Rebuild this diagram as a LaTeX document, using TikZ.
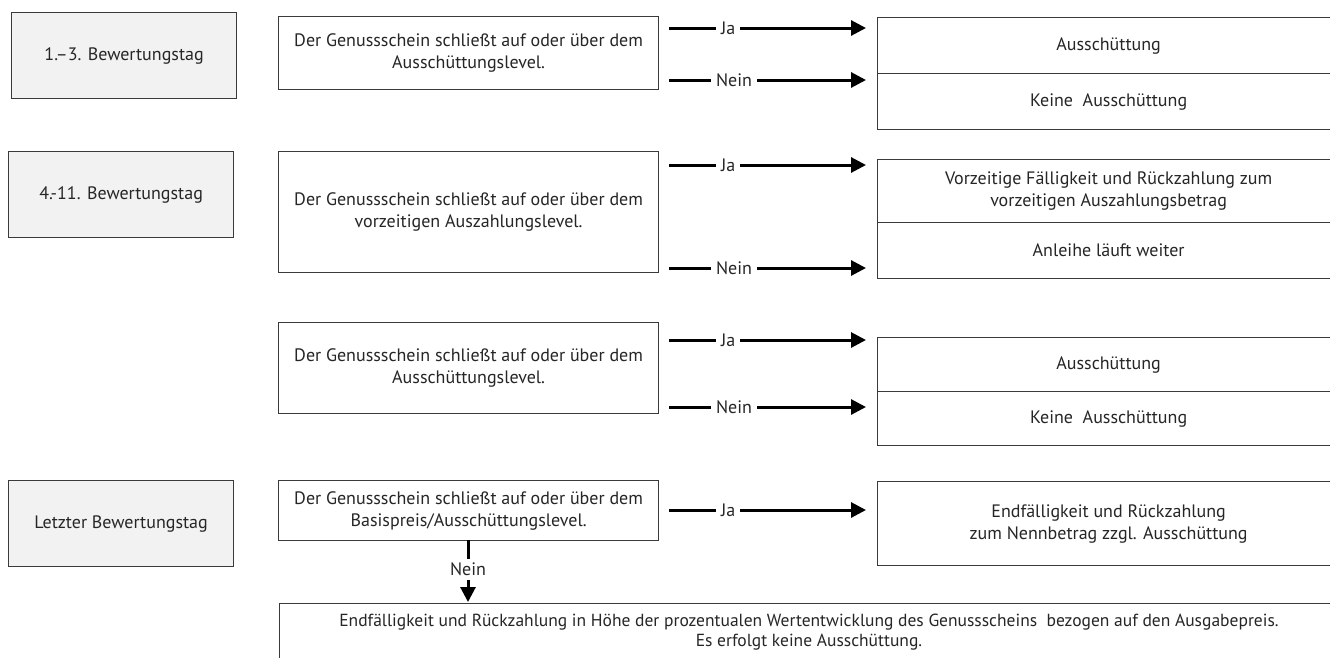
\documentclass[tikz,border=0pt]{standalone}
\usepackage{fontspec}
\setmainfont{PT Sans}
\usetikzlibrary{arrows.meta}
\definecolor{txt}{HTML}{262626}
\definecolor{frame}{HTML}{3A3A3A}
\definecolor{grayfill}{HTML}{F2F2F2}
\tikzset{
  base/.style={draw=frame, line width=1.2pt, rectangle, anchor=north west, align=center,
    text=txt, font=\fontsize{18}{22}\selectfont, inner sep=0pt},
  daybox/.style={base, fill=grayfill, minimum width=225pt, minimum height=86pt},
  condbox/.style={base, fill=white, minimum width=380pt},
  resbox/.style={base, fill=white, minimum width=462pt},
  arr/.style={line width=3pt, black, -{Triangle[length=15pt,width=15pt]}},
  lbl/.style={fill=white, text=txt, font=\fontsize{18}{20}\selectfont, inner xsep=5pt, inner ysep=1pt, pos=0.3}
}
\begin{document}
\begin{tikzpicture}[x=1pt,y=-1pt]
\useasboundingbox (0,0) rectangle (1330,657);
\clip (0,0) rectangle (1330,657);
\fill[white] (0,0) rectangle (1330,657);

% day boxes
\node[daybox] (d1) at (11,12) {1.–3. Bewertungstag};
\node[daybox] (d2) at (8,151) {4.-11. Bewertungstag};
\node[daybox] (d4) at (8,480) {Letzter Bewertungstag};

% condition boxes
\node[condbox, minimum height=73pt] (c1) at (278,16) {Der Genussschein schließt auf oder über dem\\Ausschüttungslevel.};
\node[condbox, minimum height=121pt] (c2) at (278,151) {Der Genussschein schließt auf oder über dem\\vorzeitigen Auszahlungslevel.};
\node[condbox, minimum height=91pt] (c3) at (278,322) {Der Genussschein schließt auf oder über dem\\Ausschüttungslevel.};
\node[condbox, minimum height=60pt] (c4) at (278,480) {Der Genussschein schließt auf oder über dem\\Basispreis/Ausschüttungslevel.};

% result boxes
\node[resbox, minimum height=56pt] (r1a) at (877,17) {Ausschüttung};
\node[resbox, minimum height=56pt] (r1b) at (877,73) {Keine\ \ Ausschüttung};
\node[resbox, minimum height=63pt] (r2a) at (877,159) {Vorzeitige Fälligkeit und Rückzahlung zum\\vorzeitigen Auszahlungsbetrag};
\node[resbox, minimum height=56pt] (r2b) at (877,222) {Anleihe läuft weiter};
\node[resbox, minimum height=54pt] (r3a) at (877,337) {Ausschüttung};
\node[resbox, minimum height=54pt] (r3b) at (877,391) {Keine\ \ Ausschüttung};
\node[resbox, minimum height=84pt] (r4) at (877,481) {Endfälligkeit und Rückzahlung\\zum Nennbetrag zzgl. Ausschüttung};
\node[base, fill=white, minimum width=1065pt, minimum height=90pt] (fin) at (279,603) {};
\node[text=txt, font=\fontsize{17.5}{20}\selectfont, align=center, anchor=north, inner sep=0pt] (fintext) at (809,614)
  {Endfälligkeit und Rückzahlung in Höhe der prozentualen Wertentwicklung des Genussscheins\ \ bezogen auf den Ausgabepreis.\\Es erfolgt keine Ausschüttung.};

% arrow end points
\coordinate (j1s) at (669,28);  \coordinate (j1e) at (866,28);
\coordinate (n1s) at (669,80);  \coordinate (n1e) at (866,80);
\coordinate (j2s) at (669,165); \coordinate (j2e) at (866,165);
\coordinate (n2s) at (669,268); \coordinate (n2e) at (866,268);
\coordinate (j3s) at (669,340); \coordinate (j3e) at (866,340);
\coordinate (n3s) at (669,407); \coordinate (n3e) at (866,407);
\coordinate (j4s) at (669,510); \coordinate (j4e) at (866,510);
\coordinate (v4s) at (468,540); \coordinate (v4e) at (468,602);

\draw[arr] (j1s) -- node[lbl] {Ja} (j1e);
\draw[arr] (n1s) -- node[lbl, pos=0.33] {Nein} (n1e);
\draw[arr] (j2s) -- node[lbl] {Ja} (j2e);
\draw[arr] (n2s) -- node[lbl, pos=0.33] {Nein} (n2e);
\draw[arr] (j3s) -- node[lbl] {Ja} (j3e);
\draw[arr] (n3s) -- node[lbl, pos=0.33] {Nein} (n3e);
\draw[arr] (j4s) -- node[lbl] {Ja} (j4e);
\draw[arr] (v4s) -- node[lbl, pos=0.47, inner xsep=2pt, inner ysep=4pt] {Nein} (v4e);
\end{tikzpicture}
\end{document}
